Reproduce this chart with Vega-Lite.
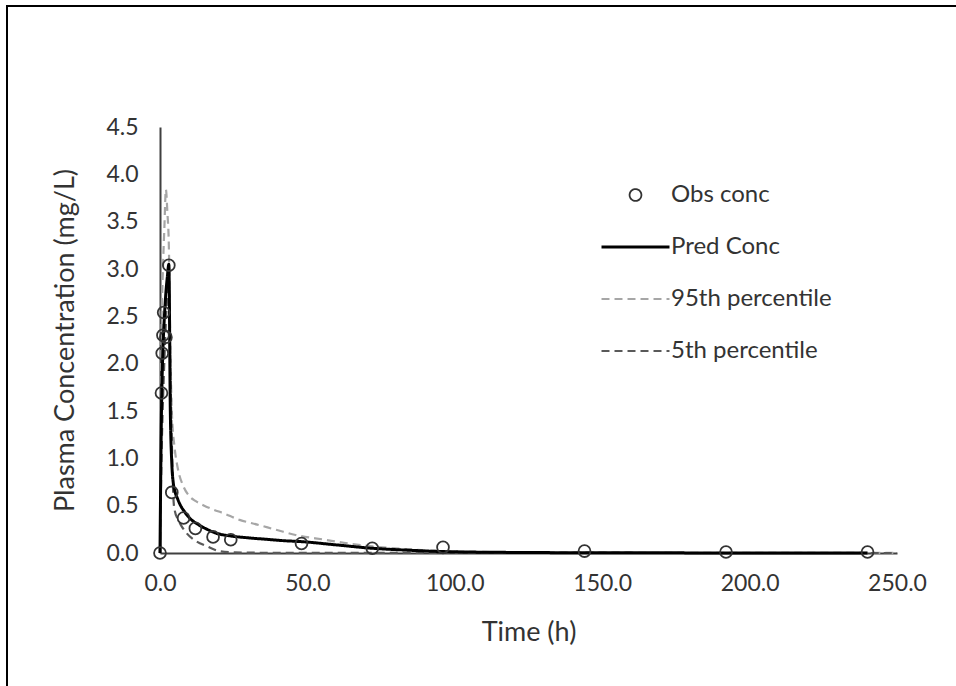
{
  "$schema": "https://vega.github.io/schema/vega-lite/v6.json",
  "width": 949,
  "height": 680,
  "autosize": {"type": "none"},
  "padding": {"left": 7, "top": 6, "right": 0, "bottom": 0},
  "background": "white",
  "config": {
    "view": {"stroke": "#000000", "strokeWidth": 2, "strokeDash": [949, 1629, 680]},
    "font": "Lato",
    "legend": {
      "orient": "none",
      "legendX": 593,
      "legendY": 176,
      "title": null,
      "padding": 0,
      "clipHeight": 26,
      "rowPadding": 26,
      "labelOffset": 0,
      "labelFontSize": 24,
      "labelLimit": 400,
      "labelColor": "#333333",
      "labelFont": "Lato"
    }
  },
  "data": {
    "values": [
      {"series": "95th percentile", "t": 0, "c": 0},
      {"series": "95th percentile", "t": 0.5, "c": 2.3},
      {"series": "95th percentile", "t": 1, "c": 3.0},
      {"series": "95th percentile", "t": 1.5, "c": 3.45},
      {"series": "95th percentile", "t": 2, "c": 3.84},
      {"series": "95th percentile", "t": 2.5, "c": 3.6},
      {"series": "95th percentile", "t": 3, "c": 3.25},
      {"series": "95th percentile", "t": 3.5, "c": 2.2},
      {"series": "95th percentile", "t": 4, "c": 1.5},
      {"series": "95th percentile", "t": 5, "c": 1.1},
      {"series": "95th percentile", "t": 6, "c": 0.9},
      {"series": "95th percentile", "t": 8, "c": 0.7},
      {"series": "95th percentile", "t": 10, "c": 0.6},
      {"series": "95th percentile", "t": 12, "c": 0.55},
      {"series": "95th percentile", "t": 15, "c": 0.5},
      {"series": "95th percentile", "t": 18, "c": 0.46},
      {"series": "95th percentile", "t": 21.5, "c": 0.42},
      {"series": "95th percentile", "t": 27, "c": 0.35},
      {"series": "95th percentile", "t": 33, "c": 0.3},
      {"series": "95th percentile", "t": 40, "c": 0.24},
      {"series": "95th percentile", "t": 46, "c": 0.19},
      {"series": "95th percentile", "t": 56, "c": 0.14},
      {"series": "95th percentile", "t": 64, "c": 0.1},
      {"series": "95th percentile", "t": 72, "c": 0.07},
      {"series": "95th percentile", "t": 84, "c": 0.04},
      {"series": "95th percentile", "t": 96, "c": 0.02},
      {"series": "95th percentile", "t": 120, "c": 0.008},
      {"series": "95th percentile", "t": 144, "c": 0.004},
      {"series": "95th percentile", "t": 192, "c": 0.002},
      {"series": "95th percentile", "t": 250, "c": 0.001},
      {"series": "5th percentile", "t": 0, "c": 0},
      {"series": "5th percentile", "t": 0.5, "c": 1.0},
      {"series": "5th percentile", "t": 1, "c": 1.6},
      {"series": "5th percentile", "t": 1.5, "c": 2.05},
      {"series": "5th percentile", "t": 2, "c": 2.45},
      {"series": "5th percentile", "t": 2.5, "c": 2.72},
      {"series": "5th percentile", "t": 3, "c": 2.9},
      {"series": "5th percentile", "t": 3.5, "c": 2.0},
      {"series": "5th percentile", "t": 4, "c": 1.2},
      {"series": "5th percentile", "t": 4.3, "c": 0.8},
      {"series": "5th percentile", "t": 4.6, "c": 0.55},
      {"series": "5th percentile", "t": 5, "c": 0.45},
      {"series": "5th percentile", "t": 6, "c": 0.36},
      {"series": "5th percentile", "t": 7, "c": 0.3},
      {"series": "5th percentile", "t": 9, "c": 0.21},
      {"series": "5th percentile", "t": 12, "c": 0.13},
      {"series": "5th percentile", "t": 16, "c": 0.07},
      {"series": "5th percentile", "t": 20, "c": 0.02},
      {"series": "5th percentile", "t": 24, "c": 0.008},
      {"series": "5th percentile", "t": 36, "c": 0.002},
      {"series": "5th percentile", "t": 48, "c": 0.001},
      {"series": "5th percentile", "t": 250, "c": 0},
      {"series": "Pred Conc", "t": 0, "c": 0},
      {"series": "Pred Conc", "t": 0.5, "c": 1.5},
      {"series": "Pred Conc", "t": 1, "c": 2.15},
      {"series": "Pred Conc", "t": 1.5, "c": 2.5},
      {"series": "Pred Conc", "t": 2, "c": 2.75},
      {"series": "Pred Conc", "t": 2.5, "c": 2.92},
      {"series": "Pred Conc", "t": 3, "c": 3.05},
      {"series": "Pred Conc", "t": 3.5, "c": 1.5},
      {"series": "Pred Conc", "t": 4, "c": 0.95},
      {"series": "Pred Conc", "t": 4.5, "c": 0.74},
      {"series": "Pred Conc", "t": 5, "c": 0.66},
      {"series": "Pred Conc", "t": 6, "c": 0.57},
      {"series": "Pred Conc", "t": 7, "c": 0.5},
      {"series": "Pred Conc", "t": 8, "c": 0.45},
      {"series": "Pred Conc", "t": 10, "c": 0.37},
      {"series": "Pred Conc", "t": 13, "c": 0.3},
      {"series": "Pred Conc", "t": 16, "c": 0.25},
      {"series": "Pred Conc", "t": 19, "c": 0.21},
      {"series": "Pred Conc", "t": 24, "c": 0.18},
      {"series": "Pred Conc", "t": 30, "c": 0.16},
      {"series": "Pred Conc", "t": 36, "c": 0.145},
      {"series": "Pred Conc", "t": 42, "c": 0.13},
      {"series": "Pred Conc", "t": 48, "c": 0.12},
      {"series": "Pred Conc", "t": 60, "c": 0.085},
      {"series": "Pred Conc", "t": 72, "c": 0.05},
      {"series": "Pred Conc", "t": 84, "c": 0.03},
      {"series": "Pred Conc", "t": 96, "c": 0.015},
      {"series": "Pred Conc", "t": 120, "c": 0.006},
      {"series": "Pred Conc", "t": 144, "c": 0.003},
      {"series": "Pred Conc", "t": 192, "c": 0.001},
      {"series": "Pred Conc", "t": 240, "c": 0.0005},
      {"series": "Obs conc", "t": 0, "c": 0},
      {"series": "Obs conc", "t": 0.5, "c": 1.69},
      {"series": "Obs conc", "t": 0.75, "c": 2.11},
      {"series": "Obs conc", "t": 1, "c": 2.3},
      {"series": "Obs conc", "t": 1.25, "c": 2.54},
      {"series": "Obs conc", "t": 2, "c": 2.28},
      {"series": "Obs conc", "t": 3, "c": 3.04},
      {"series": "Obs conc", "t": 4, "c": 0.64},
      {"series": "Obs conc", "t": 8, "c": 0.37},
      {"series": "Obs conc", "t": 12, "c": 0.26},
      {"series": "Obs conc", "t": 18, "c": 0.17},
      {"series": "Obs conc", "t": 24, "c": 0.14},
      {"series": "Obs conc", "t": 48, "c": 0.1},
      {"series": "Obs conc", "t": 72, "c": 0.05},
      {"series": "Obs conc", "t": 96, "c": 0.06},
      {"series": "Obs conc", "t": 144, "c": 0.02},
      {"series": "Obs conc", "t": 192, "c": 0.01},
      {"series": "Obs conc", "t": 240, "c": 0.01}
    ]
  },
  "encoding": {
    "x": {
      "field": "t",
      "type": "quantitative",
      "scale": {"domain": [0, 250], "range": [153, 890], "nice": false, "zero": false},
      "axis": {
        "values": [0, 50, 100, 150, 200, 250],
        "format": ".1f",
        "title": "Time (h)",
        "offset": -133,
        "ticks": false,
        "grid": false,
        "domainColor": "#404040",
        "domainWidth": 2,
        "labelFont": "Lato",
        "labelFontSize": 23,
        "labelColor": "#333333",
        "labelPadding": 19,
        "labelFlush": false,
        "titleFont": "Lato",
        "titleFontSize": 27,
        "titleFontWeight": "normal",
        "titleColor": "#333333",
        "titlePadding": 24
      }
    },
    "y": {
      "field": "c",
      "type": "quantitative",
      "scale": {"domain": [0, 4.5], "range": [547, 121], "nice": false},
      "axis": {
        "values": [0, 0.5, 1, 1.5, 2, 2.5, 3, 3.5, 4, 4.5],
        "format": ".1f",
        "title": "Plasma Concentration (mg/L)",
        "offset": -153,
        "ticks": false,
        "grid": false,
        "domainColor": "#404040",
        "domainWidth": 2,
        "labelFont": "Lato",
        "labelFontSize": 23,
        "labelColor": "#333333",
        "labelPadding": 22,
        "labelFlush": false,
        "titleFont": "Lato",
        "titleFontSize": 27,
        "titleFontWeight": "normal",
        "titleColor": "#333333",
        "titlePadding": 26
      }
    },
    "color": {
      "field": "series",
      "type": "nominal",
      "scale": {
        "domain": ["Obs conc", "Pred Conc", "95th percentile", "5th percentile"],
        "range": ["#333333", "#000000", "#a6a6a6", "#595959"]
      },
      "legend": {"title": null}
    }
  },
  "layer": [
    {
      "transform": [{"filter": "datum.series !== 'Obs conc'"}],
      "mark": {"type": "line", "interpolate": "monotone"},
      "encoding": {
        "strokeDash": {
          "field": "series",
          "type": "nominal",
          "scale": {
            "domain": ["Obs conc", "Pred Conc", "95th percentile", "5th percentile"],
            "range": [[1, 0], [1, 0], [8, 5], [8, 5]]
          },
          "legend": {"title": null}
        },
        "strokeWidth": {
          "field": "series",
          "type": "nominal",
          "scale": {
            "type": "ordinal",
            "domain": ["Obs conc", "Pred Conc", "95th percentile", "5th percentile"],
            "range": [1.8, 3, 2.2, 2.2]
          },
          "legend": {"title": null}
        }
      }
    },
    {
      "transform": [{"filter": "datum.series === 'Obs conc'"}],
      "mark": {"type": "point", "filled": false, "strokeWidth": 1.8, "opacity": 1},
      "encoding": {
        "shape": {
          "field": "series",
          "type": "nominal",
          "scale": {
            "domain": ["Obs conc", "Pred Conc", "95th percentile", "5th percentile"],
            "range": ["circle", "stroke", "stroke", "stroke"]
          },
          "legend": {"title": null}
        },
        "size": {
          "field": "series",
          "type": "nominal",
          "scale": {
            "type": "ordinal",
            "domain": ["Obs conc", "Pred Conc", "95th percentile", "5th percentile"],
            "range": [140, 4624, 4624, 4624]
          },
          "legend": {"title": null}
        }
      }
    }
  ]
}
